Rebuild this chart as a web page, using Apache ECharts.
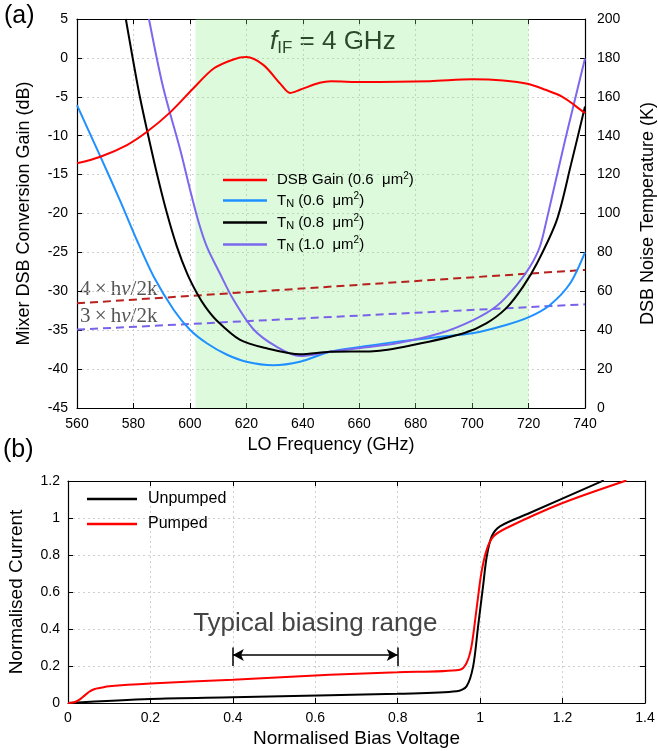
<!DOCTYPE html>
<html>
<head>
<meta charset="utf-8">
<script src="https://cdn.jsdelivr.net/npm/echarts@6/dist/echarts.min.js"></script>
<style>
html, body { margin: 0; padding: 0; background: #fff; }
#chart { width: 658px; height: 751px; }
</style>
</head>
<body>
<div id="chart"></div>
<script>
// ---- Panel (a): conversion gain and noise temperature vs LO frequency ----
const gainFreq = [560, 568.3, 577.7, 584.8, 593, 601, 608.3, 615.4, 620, 626, 632, 635.5, 639, 646, 650, 661, 685, 700, 711, 720, 726, 732, 736, 740];
const gainDb   = [-13.55, -12.7, -11.2, -9.5, -7.0, -4.0, -1.4, -0.2, 0.1, -0.9, -3.3, -4.5, -4.1, -3.2, -3.0, -3.1, -3.0, -2.75, -2.9, -3.35, -4.1, -5.0, -6.0, -7.1];

const tn06Freq = [560, 568.3, 575.3, 581.3, 587.2, 594.3, 600.1, 606, 613, 620, 629.5, 639, 649.6, 661, 673, 689, 700, 712, 720.5, 727.6, 734.7, 740];
const tn06K    = [155.7, 129.2, 106.5, 86, 67.5, 50.4, 40.1, 33.3, 27.5, 23.8, 22, 23.8, 28.9, 31.5, 34, 36.6, 38.4, 42.7, 47, 53, 64, 80];

const tn08Freq = [577.3, 581.8, 584.8, 588.3, 591.9, 595.4, 599, 602.5, 605.5, 609.5, 617.8, 627.2, 639, 649.6, 665, 679, 697, 705, 712, 718, 723, 730, 735, 740];
const tn08K    = [200, 163.5, 142.9, 120.6, 100, 83, 69.2, 59, 52, 45, 35, 30.7, 27.6, 28.9, 29.2, 32.4, 38.4, 43.5, 51.2, 62.3, 74.4, 96.6, 125, 155];

const tn10Freq = [585.5, 590.5, 596.6, 600.1, 603.1, 606, 610.7, 615.3, 622.5, 630.7, 639, 649.6, 661, 673.3, 688.6, 700.4, 708.7, 715.8, 720.5, 724, 726.4, 733, 740];
const tn10K    = [200, 165, 132.6, 112, 95.5, 83, 69, 56, 40.5, 31.5, 26.7, 28.9, 31, 33.3, 38.4, 45.2, 52.4, 63.2, 72.6, 82.9, 96.6, 138, 179.7];

// quantum-limit reference lines (K)
const limitFreq = [560, 740];
const limit4K   = [53.8, 71.0];
const limit3K   = [40.3, 53.3];

// shaded design band (GHz)
const bandFreq = [602, 720];

// ---- Panel (b): pumped / unpumped IV curves ----
const unpumpedV = [0, 0.2, 0.4, 0.635, 0.8, 0.943, 0.967, 0.983, 0.995, 1.007, 1.016, 1.028, 1.048, 1.12, 1.3];
const unpumpedI = [0, 0.022, 0.031, 0.042, 0.05, 0.063, 0.09, 0.198, 0.414, 0.63, 0.792, 0.9, 0.955, 1.027, 1.203];

const pumpedV = [0, 0.015, 0.028, 0.04, 0.053, 0.065, 0.077, 0.1, 0.2, 0.4, 0.635, 0.8, 0.951, 0.967, 0.979, 0.991, 1.003, 1.016, 1.032, 1.064, 1.2, 1.355];
const pumpedI = [0, 0.004, 0.018, 0.04, 0.063, 0.076, 0.081, 0.09, 0.105, 0.126, 0.153, 0.166, 0.18, 0.216, 0.306, 0.504, 0.703, 0.829, 0.9, 0.946, 1.081, 1.203];

const biasRange = [0.4, 0.8];
const biasArrowLevel = 0.26;

const FONT = 'Liberation Sans';

const pairs = (xs, ys) => xs.map((x, i) => [x, ys[i]]);

function curve(name, xs, ys, color, xi, yi, extra) {
  return Object.assign({
    name: name,
    type: 'line',
    xAxisIndex: xi,
    yAxisIndex: yi,
    data: pairs(xs, ys),
    symbol: 'none',
    showSymbol: false,
    smooth: 0.3,
    lineStyle: { color: color, width: 2 },
    itemStyle: { color: color },
    animation: false,
    silent: true
  }, extra || {});
}

const dotted = { show: true, lineStyle: { color: '#cfcfcf', type: [2, 3], width: 1 } };
const blackLine = { show: true, onZero: false, lineStyle: { color: '#000', width: 1.2 } };
const inTick = { show: true, inside: true, length: 5, lineStyle: { color: '#000' } };
const tickLabel = { color: '#000', fontSize: 14, fontFamily: FONT };
const nameStyle = { color: '#000', fontSize: 18, fontFamily: FONT };
const fmt1 = v => String(+v.toFixed(1));

const legendRich = {
  a: { fontSize: 15, fontFamily: FONT, color: '#000', lineHeight: 18 },
  n: { fontSize: 11, fontFamily: FONT, color: '#000', lineHeight: 11, verticalAlign: 'bottom' },
  p: { fontSize: 10, fontFamily: FONT, color: '#000', lineHeight: 10, verticalAlign: 'top' }
};
const legendText = {
  'DSB Gain (0.6 μm2)': '{a|DSB Gain (0.6  μm}{p|2}{a|)}',
  'TN (0.6 μm2)': '{a|T}{n|N}{a| (0.6  μm}{p|2}{a|)}',
  'TN (0.8 μm2)': '{a|T}{n|N}{a| (0.8  μm}{p|2}{a|)}',
  'TN (1.0 μm2)': '{a|T}{n|N}{a| (1.0  μm}{p|2}{a|)}'
};

const serifRich = {
  r: { fontSize: 21, fontFamily: 'Liberation Serif', fill: '#555' },
  i: { fontSize: 21, fontFamily: 'Liberation Serif', fontStyle: 'italic', fill: '#555' }
};

const option = {
  backgroundColor: '#fff',
  animation: false,
  grid: [
    { left: 77, top: 19, width: 508, height: 389, outerBoundsMode: 'none' },
    { left: 68, top: 481, width: 577, height: 222, outerBoundsMode: 'none' }
  ],
  xAxis: [
    { gridIndex: 0, type: 'value', min: 560, max: 740, interval: 20, position: 'bottom',
      axisLine: blackLine, axisTick: inTick, splitLine: dotted,
      axisLabel: Object.assign({ margin: 9 }, tickLabel),
      name: 'LO Frequency (GHz)', nameLocation: 'middle', nameGap: 27, nameTextStyle: nameStyle },
    { gridIndex: 0, type: 'value', min: 560, max: 740, interval: 20, position: 'top',
      axisLine: blackLine, axisTick: inTick, splitLine: { show: false }, axisLabel: { show: false } },
    { gridIndex: 1, type: 'value', min: 0, max: 1.4, interval: 0.2, position: 'bottom',
      axisLine: blackLine, axisTick: inTick, splitLine: dotted,
      axisLabel: Object.assign({ margin: 8, formatter: fmt1 }, tickLabel),
      name: 'Normalised Bias Voltage', nameLocation: 'middle', nameGap: 26, nameTextStyle: Object.assign({}, nameStyle, { fontSize: 19 }) },
    { gridIndex: 1, type: 'value', min: 0, max: 1.4, interval: 0.2, position: 'top',
      axisLine: blackLine, axisTick: inTick, splitLine: { show: false }, axisLabel: { show: false } }
  ],
  yAxis: [
    { gridIndex: 0, type: 'value', min: -45, max: 5, interval: 5, position: 'left',
      axisLine: blackLine, axisTick: inTick, splitLine: dotted,
      axisLabel: Object.assign({ margin: 9 }, tickLabel),
      name: 'Mixer DSB Conversion Gain (dB)', nameLocation: 'middle', nameGap: 44, nameTextStyle: nameStyle },
    { gridIndex: 0, type: 'value', min: 0, max: 200, interval: 20, position: 'right',
      axisLine: blackLine, axisTick: inTick, splitLine: { show: false },
      axisLabel: Object.assign({ margin: 12 }, tickLabel),
      name: 'DSB Noise Temperature (K)', nameLocation: 'middle', nameGap: 54, nameTextStyle: nameStyle },
    { gridIndex: 1, type: 'value', min: 0, max: 1.2, interval: 0.2, position: 'left',
      axisLine: blackLine, axisTick: inTick, splitLine: dotted,
      axisLabel: Object.assign({ margin: 8, formatter: fmt1 }, tickLabel),
      name: 'Normalised Current', nameLocation: 'middle', nameGap: 42, nameTextStyle: Object.assign({}, nameStyle, { fontSize: 19 }) },
    { gridIndex: 1, type: 'value', min: 0, max: 1.2, interval: 0.2, position: 'right',
      axisLine: blackLine, axisTick: inTick, splitLine: { show: false }, axisLabel: { show: false } }
  ],
  legend: [
    { orient: 'vertical', left: 218, top: 166, itemWidth: 44, itemHeight: 2.5, itemGap: 4, icon: 'rect',
      data: ['DSB Gain (0.6 μm2)', 'TN (0.6 μm2)', 'TN (0.8 μm2)', 'TN (1.0 μm2)'],
      formatter: n => legendText[n],
      textStyle: { rich: legendRich, padding: [0, 0, 0, 5] },
      selectedMode: false },
    { orient: 'vertical', left: 82, top: 485, itemWidth: 50, itemHeight: 2.5, itemGap: 7, icon: 'rect',
      data: ['Unpumped', 'Pumped'],
      textStyle: { fontSize: 16, fontFamily: FONT, color: '#000', lineHeight: 18, padding: [0, 0, 0, 6] },
      selectedMode: false }
  ],
  series: [
    // translucent band so the dotted grid stays visible through it
    { name: 'band', type: 'line', xAxisIndex: 0, yAxisIndex: 0, data: [], silent: true,
      markArea: { silent: true, itemStyle: { color: 'rgba(142,238,142,0.3)' },
        data: [[{ xAxis: bandFreq[0] }, { xAxis: bandFreq[1] }]] } },
    curve('limit4', limitFreq, limit4K, '#b8201e', 0, 1, { smooth: false, lineStyle: { color: '#b8201e', width: 2, type: [8, 5] } }),
    curve('limit3', limitFreq, limit3K, '#7a62e8', 0, 1, { smooth: false, lineStyle: { color: '#7a62e8', width: 2, type: [8, 5] } }),
    curve('TN (0.6 μm2)', tn06Freq, tn06K, '#1e90ff', 0, 1),
    curve('TN (1.0 μm2)', tn10Freq, tn10K, '#7b68ee', 0, 1),
    curve('TN (0.8 μm2)', tn08Freq, tn08K, '#000000', 0, 1),
    curve('DSB Gain (0.6 μm2)', gainFreq, gainDb, '#ff0000', 0, 0),
    curve('Unpumped', unpumpedV, unpumpedI, '#000000', 2, 2),
    curve('Pumped', pumpedV, pumpedI, '#ff0000', 2, 2, {
      markLine: {
        silent: true, animation: false, label: { show: false },
        lineStyle: { color: '#000', width: 1.5, type: 'solid' },
        data: [
          [{ coord: [biasRange[0], biasArrowLevel], symbol: 'arrow', symbolSize: [9, 11] },
           { coord: [biasRange[1], biasArrowLevel], symbol: 'arrow', symbolSize: [9, 11] }],
          [{ coord: [biasRange[0], 0.2], symbol: 'none' }, { coord: [biasRange[0], 0.3], symbol: 'none' }],
          [{ coord: [biasRange[1], 0.2], symbol: 'none' }, { coord: [biasRange[1], 0.3], symbol: 'none' }]
        ]
      },
      markPoint: {
        silent: true, symbol: 'circle', symbolSize: 0,
        label: { show: true, position: 'inside', formatter: 'Typical biasing range', fontSize: 26, fontFamily: FONT, color: '#444' },
        data: [{ coord: [(biasRange[0] + biasRange[1]) / 2, 0.43] }]
      }
    })
  ],
  graphic: [
    { type: 'text', left: 4, top: 4, style: { text: '(a)', fontSize: 25, fontFamily: FONT, fill: '#000' } },
    { type: 'text', left: 3, top: 438, style: { text: '(b)', fontSize: 25, fontFamily: FONT, fill: '#000' } },
    { type: 'text', left: 270, top: 29, style: {
        text: '{f|f}{s|IF}{t| = 4 GHz}',
        rich: {
          f: { fontSize: 26, fontStyle: 'italic', fontFamily: FONT, fill: '#000', lineHeight: 29 },
          s: { fontSize: 17, fontFamily: FONT, fill: '#000', lineHeight: 17, verticalAlign: 'bottom' },
          t: { fontSize: 26, fontFamily: FONT, fill: '#000', lineHeight: 29 }
        } } },
    { type: 'text', left: 80, top: 279, style: { text: '{r|4\u2009×\u2009h}{i|ν}{r|/2k}', rich: serifRich } },
    { type: 'text', left: 80, top: 306, style: { text: '{r|3\u2009×\u2009h}{i|ν}{r|/2k}', rich: serifRich } }
  ]
};

const chart = echarts.init(document.getElementById('chart'), null, { renderer: 'canvas' });
chart.setOption(option);
</script>
</body>
</html>
